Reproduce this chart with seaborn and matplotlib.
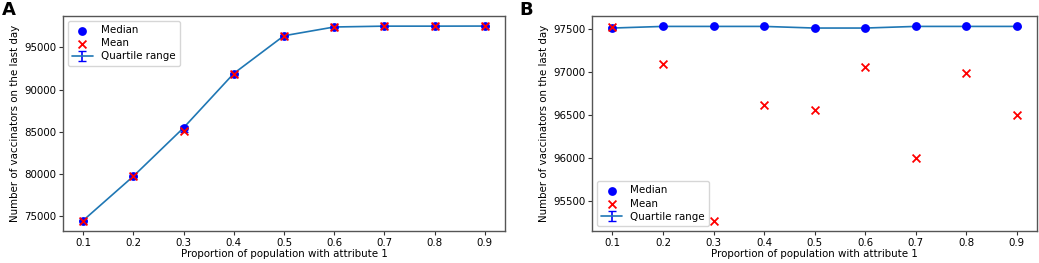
import numpy as np
import pandas as pd
import matplotlib
matplotlib.use("Agg")
import matplotlib.pyplot as plt
import seaborn as sns

# x 값 (attribute 1 비율)
proportions = [0.1, 0.2, 0.3, 0.4, 0.5, 0.6, 0.7, 0.8, 0.9]

# 패널 A
median_a = [74450, 79700, 85450, 91900, 96380, 97420, 97520, 97520, 97530]
mean_a = [74450, 79680, 85080, 91880, 96350, 97400, 97510, 97510, 97520]
q1_a = [74380, 79620, 84950, 91820, 96300, 97380, 97490, 97490, 97500]
q3_a = [74520, 79780, 85700, 91980, 96450, 97460, 97550, 97550, 97560]

# 패널 B
median_b = [97512, 97531, 97531, 97531, 97512, 97512, 97531, 97531, 97531]
mean_b = [97520, 97095, 95265, 96622, 96564, 97058, 95998, 96985, 96495]
q1_b = [97505, 97524, 97524, 97524, 97505, 97505, 97524, 97524, 97524]
q3_b = [97519, 97538, 97538, 97538, 97519, 97519, 97538, 97538, 97538]

sns.set_style("ticks")
plt.rcParams['font.family'] = ['DejaVu Sans']
plt.rcParams['text.color'] = 'black'
plt.rcParams['axes.labelcolor'] = 'black'
plt.rcParams['xtick.color'] = '#333333'
plt.rcParams['ytick.color'] = '#333333'
FS = 7.4


def draw_panel(ax, median, mean, q1, q3, legend_loc):
    df = pd.DataFrame({'x': proportions, 'median': median, 'mean': mean})
    yerr = np.array([np.array(median) - np.array(q1), np.array(q3) - np.array(median)])
    ax.errorbar(df['x'], df['median'], yerr=yerr, color='#1f77b4', ecolor='blue',
                capsize=3, lw=1.2, elinewidth=1.2, label='Quartile range', zorder=2)
    sns.scatterplot(data=df, x='x', y='median', ax=ax, color='blue', marker='o', s=40,
                    linewidth=0, label='Median', zorder=3)
    sns.scatterplot(data=df, x='x', y='mean', ax=ax, color='red', marker='x', s=32,
                    linewidth=1.3, label='Mean', zorder=4)
    ax.set_xticks(proportions)
    ax.set_xticklabels([f'{p:.1f}' for p in proportions], color='black')
    ax.set_xlim(0.06, 0.94)
    ax.set_xlabel('Proportion of population with attribute 1', fontsize=FS, labelpad=1)
    ax.set_ylabel('Number of vaccinators on the last day', fontsize=FS, labelpad=3)
    ax.tick_params(labelsize=FS, length=3, width=0.8, pad=2, labelcolor='black')
    for s in ax.spines.values():
        s.set_visible(True)
        s.set_color('#555555')
        s.set_linewidth(1.0)
    handles, labels = ax.get_legend_handles_labels()
    order = [labels.index(l) for l in ['Median', 'Mean', 'Quartile range']]
    ax.legend([handles[i] for i in order], [labels[i] for i in order], loc=legend_loc,
              fontsize=FS, frameon=True, fancybox=True, framealpha=0.8,
              edgecolor='#cccccc', handlelength=2.0, borderpad=0.4, labelspacing=0.3)


fig = plt.figure(figsize=(10.39, 2.63), dpi=100)
ax_a = fig.add_axes([0.0606, 0.122, 0.4254, 0.817])
ax_b = fig.add_axes([0.570, 0.122, 0.428, 0.817])

draw_panel(ax_a, median_a, mean_a, q1_a, q3_a, 'upper left')
draw_panel(ax_b, median_b, mean_b, q1_b, q3_b, 'lower left')

fig.text(0.002, 0.995, 'A', fontsize=13, fontweight='bold', va='top', ha='left')
fig.text(0.500, 0.995, 'B', fontsize=13, fontweight='bold', va='top', ha='left')

fig.savefig('out.png', dpi=100)
